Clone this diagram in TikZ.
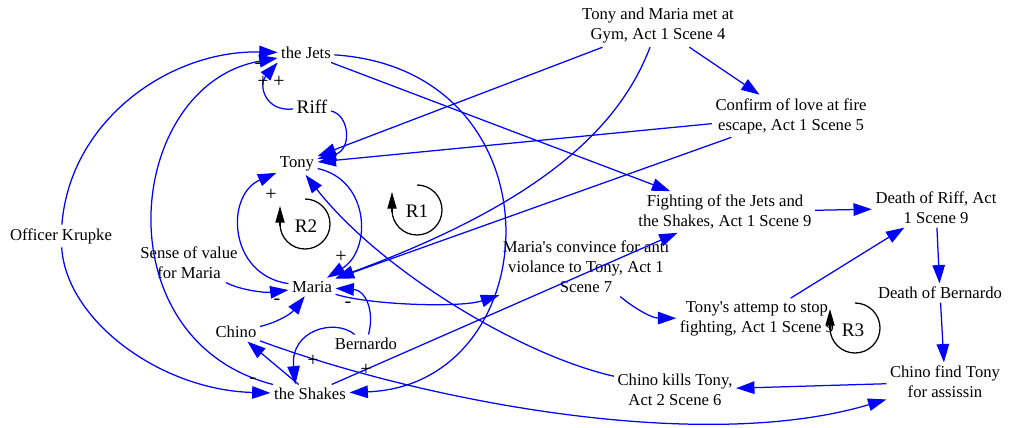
\documentclass[tikz,border=0pt]{standalone}
\usepackage{fontspec}
\setmainfont{Liberation Serif}
\usetikzlibrary{arrows.meta}
\begin{document}
\begin{tikzpicture}[x=0.6pt,y=-0.6pt,
  lbl/.style={font=\fontsize{10}{12}\selectfont, align=center, inner sep=2pt, text=black},
  big/.style={font=\fontsize{11.5}{13}\selectfont, inner sep=2pt, text=black},
  sign/.style={font=\fontsize{12}{14}\selectfont, inner sep=0pt, text=black},
  edge/.style={draw=blue, line width=0.75pt, -{Triangle[length=11pt,width=7.5pt]}},
  loopline/.style={draw=black, line width=0.75pt},
  looparrow/.style={draw=black, line width=0.75pt, -{Triangle[length=10pt,width=5.5pt]}}
]
\useasboundingbox (0,0) rectangle (1010,428);
% nodes
\node[lbl] (jets) at (306,53) {the Jets};
\node[big] (riff) at (312,107) {Riff};
\node[lbl] (tony) at (297,164) {Tony};
\node[lbl] (krupke) at (61,236) {Officer Krupke};
\node[lbl] (sense) at (189,263) {Sense of value\\for Maria};
\node[lbl] (maria) at (312,287) {Maria};
\node[lbl] (chino) at (236,332) {Chino};
\node[lbl] (bernardo) at (366,344) {Bernardo};
\node[lbl] (shakes) at (310,394) {the Shakes};
\node[lbl] (gym) at (658,26) {Tony and Maria met at\\Gym, Act 1 Scene 4};
\node[lbl] (confirm) at (791,116) {Confirm of love at fire\\escape, Act 1 Scene 5};
\node[lbl] (fight) at (725,212) {Fighting of the Jets and\\the Shakes, Act 1 Scene 9};
\node[lbl] (riffd) at (936,208) {Death of Riff, Act\\1 Scene 9};
\node[lbl] (convince) at (586,267) {Maria\textquotesingle s convince for anti\\violance to Tony, Act 1\\Scene 7};
\node[lbl] (attemp) at (757,319) {Tony\textquotesingle s attemp to stop\\fighting, Act 1 Scene 9};
\node[lbl] (bernd) at (940,293) {Death of Bernardo};
\node[lbl] (kills) at (675,390) {Chino kills Tony,\\Act 2 Scene 6};
\node[lbl] (find) at (945,382) {Chino find Tony\\for assissin};
% connectors
\draw[edge] (krupke) .. controls (70,120) and (170,50) .. (jets);
\draw[edge] (krupke) .. controls (66,320) and (160,390) .. (shakes);
\draw[edge] (shakes) .. controls (100,340) and (125,85) .. (jets);
\draw[edge] (jets) .. controls (565,70) and (550,385) .. (shakes);
\draw[edge] (riff) .. controls (265,112) and (258,85) .. (jets.south west);
\draw[edge] (riff) .. controls (350,115) and (352,150) .. (tony);
\draw[edge] (gym) -- (tony);
\draw[edge] (gym) .. controls (615,140) and (520,210) .. (maria);
\draw[edge] (gym) -- (confirm);
\draw[edge] (confirm) -- (tony);
\draw[edge] (confirm) -- (maria);
\draw[edge] (jets) -- (fight);
\draw[edge] (fight) -- (riffd);
\draw[edge] (riffd) -- (bernd);
\draw[edge] (bernd) -- (find);
\draw[edge] (find) -- (kills);
\draw[edge] (kills) .. controls (520,355) and (380,270) .. (tony);
\draw[edge] (maria) .. controls (228,275) and (225,195) .. (tony);
\draw[edge] (tony) .. controls (370,180) and (372,250) .. (maria);
\draw[edge] (sense) .. controls (240,290) and (265,293) .. (maria);
\draw[edge] (chino) .. controls (275,323) and (290,315) .. (maria);
\draw[edge] (bernardo) .. controls (375,310) and (365,290) .. (maria);
\draw[edge] (bernardo) .. controls (335,318) and (290,330) .. (shakes.147);
\draw[edge] (shakes) -- (chino);
\draw[edge] (chino) .. controls (420,400) and (700,455) .. (find);
\draw[edge] (maria) .. controls (370,305) and (460,308) .. (convince);
\draw[edge] (convince) .. controls (630,305) and (650,318) .. (attemp);
\draw[edge] (attemp) -- (riffd);
\draw[edge] (shakes) -- (fight);
% polarity signs
\node[sign] (s1) at (258,66) {-};
\node[sign] (s2) at (263,82) {+};
\node[sign] (s3) at (279,82) {+};
\node[sign] (s4) at (271,195) {+};
\node[sign] (s5) at (341,257) {+};
\node[sign] (s6) at (277,302) {-};
\node[sign] (s7) at (348,305) {-};
\node[sign] (s8) at (313,361) {+};
\node[sign] (s9) at (366,370) {+};
\node[sign] (s10) at (253,381) {-};
% loops
\draw[loopline] (417,185) arc[start angle=90, end angle=-180, radius=15pt];
\draw[looparrow] (392,212) -- (392,192);
\node[big] (r1) at (417,211) {R1};
\draw[loopline] (305,199) arc[start angle=90, end angle=-180, radius=15pt];
\draw[looparrow] (280,226) -- (280,206);
\node[big] (r2) at (306,226) {R2};
\draw[loopline] (855,303) arc[start angle=90, end angle=-180, radius=15pt];
\draw[looparrow] (830,330) -- (830,309);
\node[big] (r3) at (853,330) {R3};
\end{tikzpicture}
\end{document}
